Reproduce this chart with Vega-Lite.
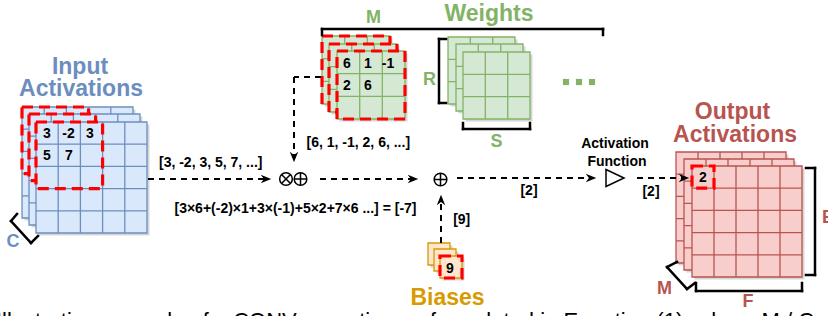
{
  "$schema": "https://vega.github.io/schema/vega-lite/v6.json",
  "width": 828,
  "height": 316,
  "autosize": {"type": "none"},
  "padding": 0,
  "background": "white",
  "config": {"view": {"stroke": null}, "legend": {"disable": true}},
  "datasets": {
    "grid": [
      {"g":"in","d":0,"x":22,"y":107,"x2":133,"y2":218},
      {"g":"in","d":1,"x":29,"y":114,"x2":140,"y2":225},
      {"g":"in","d":2,"x":36,"y":122,"x2":147,"y2":233},
      {"g":"w","d":0,"x":322,"y":36,"x2":390,"y2":104},
      {"g":"w","d":1,"x":329,"y":44,"x2":397,"y2":112},
      {"g":"w","d":2,"x":337,"y":51,"x2":405,"y2":119},
      {"g":"w","d":0,"x":448,"y":37,"x2":515,"y2":104},
      {"g":"w","d":1,"x":456,"y":44,"x2":523,"y2":111},
      {"g":"w","d":2,"x":463,"y":52,"x2":530,"y2":119},
      {"g":"out","d":0,"x":676,"y":152,"x2":786,"y2":263},
      {"g":"out","d":1,"x":684,"y":159,"x2":794,"y2":270},
      {"g":"out","d":2,"x":692,"y":166,"x2":802,"y2":277},
      {"g":"b","d":0,"x":428,"y":243,"x2":450,"y2":265},
      {"g":"b","d":1,"x":434,"y":249,"x2":456,"y2":271},
      {"g":"b","d":2,"x":440,"y":256,"x2":462,"y2":278}
    ],
    "gline": [
      {"g":"in","d":0,"x":44.2,"y":107,"x2":44.2,"y2":218},
      {"g":"in","d":0,"x":66.4,"y":107,"x2":66.4,"y2":218},
      {"g":"in","d":0,"x":88.6,"y":107,"x2":88.6,"y2":218},
      {"g":"in","d":0,"x":110.8,"y":107,"x2":110.8,"y2":218},
      {"g":"in","d":0,"x":22,"y":129.2,"x2":133,"y2":129.2},
      {"g":"in","d":0,"x":22,"y":151.4,"x2":133,"y2":151.4},
      {"g":"in","d":0,"x":22,"y":173.6,"x2":133,"y2":173.6},
      {"g":"in","d":0,"x":22,"y":195.8,"x2":133,"y2":195.8},
      {"g":"in","d":1,"x":51.2,"y":114,"x2":51.2,"y2":225},
      {"g":"in","d":1,"x":73.4,"y":114,"x2":73.4,"y2":225},
      {"g":"in","d":1,"x":95.6,"y":114,"x2":95.6,"y2":225},
      {"g":"in","d":1,"x":117.8,"y":114,"x2":117.8,"y2":225},
      {"g":"in","d":1,"x":29,"y":136.2,"x2":140,"y2":136.2},
      {"g":"in","d":1,"x":29,"y":158.4,"x2":140,"y2":158.4},
      {"g":"in","d":1,"x":29,"y":180.6,"x2":140,"y2":180.6},
      {"g":"in","d":1,"x":29,"y":202.8,"x2":140,"y2":202.8},
      {"g":"in","d":2,"x":58.2,"y":122,"x2":58.2,"y2":233},
      {"g":"in","d":2,"x":80.4,"y":122,"x2":80.4,"y2":233},
      {"g":"in","d":2,"x":102.6,"y":122,"x2":102.6,"y2":233},
      {"g":"in","d":2,"x":124.8,"y":122,"x2":124.8,"y2":233},
      {"g":"in","d":2,"x":36,"y":144.2,"x2":147,"y2":144.2},
      {"g":"in","d":2,"x":36,"y":166.4,"x2":147,"y2":166.4},
      {"g":"in","d":2,"x":36,"y":188.6,"x2":147,"y2":188.6},
      {"g":"in","d":2,"x":36,"y":210.8,"x2":147,"y2":210.8},
      {"g":"w","d":0,"x":344.7,"y":36,"x2":344.7,"y2":104},
      {"g":"w","d":0,"x":367.3,"y":36,"x2":367.3,"y2":104},
      {"g":"w","d":0,"x":322,"y":58.7,"x2":390,"y2":58.7},
      {"g":"w","d":0,"x":322,"y":81.3,"x2":390,"y2":81.3},
      {"g":"w","d":1,"x":351.7,"y":44,"x2":351.7,"y2":112},
      {"g":"w","d":1,"x":374.3,"y":44,"x2":374.3,"y2":112},
      {"g":"w","d":1,"x":329,"y":66.7,"x2":397,"y2":66.7},
      {"g":"w","d":1,"x":329,"y":89.3,"x2":397,"y2":89.3},
      {"g":"w","d":2,"x":359.7,"y":51,"x2":359.7,"y2":119},
      {"g":"w","d":2,"x":382.3,"y":51,"x2":382.3,"y2":119},
      {"g":"w","d":2,"x":337,"y":73.7,"x2":405,"y2":73.7},
      {"g":"w","d":2,"x":337,"y":96.3,"x2":405,"y2":96.3},
      {"g":"w","d":0,"x":470.3,"y":37,"x2":470.3,"y2":104},
      {"g":"w","d":0,"x":492.7,"y":37,"x2":492.7,"y2":104},
      {"g":"w","d":0,"x":448,"y":59.3,"x2":515,"y2":59.3},
      {"g":"w","d":0,"x":448,"y":81.7,"x2":515,"y2":81.7},
      {"g":"w","d":1,"x":478.3,"y":44,"x2":478.3,"y2":111},
      {"g":"w","d":1,"x":500.7,"y":44,"x2":500.7,"y2":111},
      {"g":"w","d":1,"x":456,"y":66.3,"x2":523,"y2":66.3},
      {"g":"w","d":1,"x":456,"y":88.7,"x2":523,"y2":88.7},
      {"g":"w","d":2,"x":485.3,"y":52,"x2":485.3,"y2":119},
      {"g":"w","d":2,"x":507.7,"y":52,"x2":507.7,"y2":119},
      {"g":"w","d":2,"x":463,"y":74.3,"x2":530,"y2":74.3},
      {"g":"w","d":2,"x":463,"y":96.7,"x2":530,"y2":96.7},
      {"g":"out","d":0,"x":698,"y":152,"x2":698,"y2":263},
      {"g":"out","d":0,"x":720,"y":152,"x2":720,"y2":263},
      {"g":"out","d":0,"x":742,"y":152,"x2":742,"y2":263},
      {"g":"out","d":0,"x":764,"y":152,"x2":764,"y2":263},
      {"g":"out","d":0,"x":676,"y":174.2,"x2":786,"y2":174.2},
      {"g":"out","d":0,"x":676,"y":196.4,"x2":786,"y2":196.4},
      {"g":"out","d":0,"x":676,"y":218.6,"x2":786,"y2":218.6},
      {"g":"out","d":0,"x":676,"y":240.8,"x2":786,"y2":240.8},
      {"g":"out","d":1,"x":706,"y":159,"x2":706,"y2":270},
      {"g":"out","d":1,"x":728,"y":159,"x2":728,"y2":270},
      {"g":"out","d":1,"x":750,"y":159,"x2":750,"y2":270},
      {"g":"out","d":1,"x":772,"y":159,"x2":772,"y2":270},
      {"g":"out","d":1,"x":684,"y":181.2,"x2":794,"y2":181.2},
      {"g":"out","d":1,"x":684,"y":203.4,"x2":794,"y2":203.4},
      {"g":"out","d":1,"x":684,"y":225.6,"x2":794,"y2":225.6},
      {"g":"out","d":1,"x":684,"y":247.8,"x2":794,"y2":247.8},
      {"g":"out","d":2,"x":714,"y":166,"x2":714,"y2":277},
      {"g":"out","d":2,"x":736,"y":166,"x2":736,"y2":277},
      {"g":"out","d":2,"x":758,"y":166,"x2":758,"y2":277},
      {"g":"out","d":2,"x":780,"y":166,"x2":780,"y2":277},
      {"g":"out","d":2,"x":692,"y":188.2,"x2":802,"y2":188.2},
      {"g":"out","d":2,"x":692,"y":210.4,"x2":802,"y2":210.4},
      {"g":"out","d":2,"x":692,"y":232.6,"x2":802,"y2":232.6},
      {"g":"out","d":2,"x":692,"y":254.8,"x2":802,"y2":254.8}
    ],
    "sel": [
      {"d":0,"x":22,"y":107,"x2":88.6,"y2":173.6},
      {"d":1,"x":29,"y":114,"x2":95.6,"y2":180.6},
      {"d":2,"x":36,"y":122,"x2":102.6,"y2":188.6},
      {"d":0,"x":322,"y":36,"x2":390,"y2":104},
      {"d":1,"x":329,"y":44,"x2":397,"y2":112},
      {"d":2,"x":337,"y":51,"x2":405,"y2":119},
      {"d":2,"x":692,"y":166,"x2":714,"y2":188.2},
      {"d":2,"x":440,"y":256,"x2":462,"y2":278}
    ],
    "dash": [
      {"x":321,"y":77,"x2":294,"y2":77},
      {"x":294,"y":77,"x2":294,"y2":155},
      {"x":148,"y":179,"x2":264,"y2":179},
      {"x":320,"y":179,"x2":411,"y2":179},
      {"x":441,"y":243,"x2":441,"y2":202},
      {"x":457,"y":178,"x2":589,"y2":178},
      {"x":637,"y":178,"x2":682,"y2":178}
    ],
    "brk": [
      {"x":322,"y":35,"x2":322,"y2":29},
      {"x":322,"y":29,"x2":603,"y2":29},
      {"x":603,"y":29,"x2":603,"y2":35},
      {"x":446,"y":39,"x2":439,"y2":39},
      {"x":439,"y":39,"x2":439,"y2":103},
      {"x":439,"y":103,"x2":446,"y2":103},
      {"x":463,"y":123,"x2":463,"y2":129},
      {"x":463,"y":129,"x2":530,"y2":129},
      {"x":530,"y":129,"x2":530,"y2":123},
      {"x":806,"y":168,"x2":815,"y2":168},
      {"x":815,"y":168,"x2":815,"y2":275},
      {"x":815,"y":275,"x2":806,"y2":275},
      {"x":696,"y":283,"x2":696,"y2":291},
      {"x":696,"y":291,"x2":802,"y2":291},
      {"x":802,"y":291,"x2":802,"y2":283},
      {"x":677,"y":262,"x2":667,"y2":267},
      {"x":667,"y":267,"x2":687,"y2":289},
      {"x":687,"y":289,"x2":695,"y2":283},
      {"x":17,"y":214,"x2":11,"y2":221},
      {"x":11,"y":221,"x2":31,"y2":243},
      {"x":31,"y":243,"x2":38,"y2":236}
    ],
    "sym": [
      {"s":"down","x":294,"y":157},
      {"s":"right","x":266,"y":179},
      {"s":"right","x":413,"y":179},
      {"s":"up","x":441,"y":200},
      {"s":"right","x":591,"y":178},
      {"s":"right","x":684,"y":178},
      {"s":"times","x":286,"y":179},
      {"s":"plus","x":300.5,"y":179},
      {"s":"plus","x":440.5,"y":179.5},
      {"s":"tri","x":615,"y":178}
    ],
    "dots": [
      {"x":566,"y":82},
      {"x":579,"y":82},
      {"x":592,"y":82}
    ],
    "txt": [
      {"t":"Input","x":80,"y":73.5,"k":"title","c":"in"},
      {"t":"Activations","x":81,"y":95.5,"k":"title","c":"in"},
      {"t":"Weights","x":489,"y":20.5,"k":"title","c":"w"},
      {"t":"Output","x":732.5,"y":119,"k":"title","c":"out"},
      {"t":"Activations","x":735,"y":141.5,"k":"title","c":"out"},
      {"t":"Biases","x":447.5,"y":305,"k":"title","c":"b"},
      {"t":"M","x":373.5,"y":23.3,"k":"dim","c":"w"},
      {"t":"R","x":429.5,"y":85,"k":"dim","c":"w"},
      {"t":"S","x":496.5,"y":146.5,"k":"dim","c":"w"},
      {"t":"C","x":13,"y":246.5,"k":"dim","c":"in"},
      {"t":"M","x":664.5,"y":294,"k":"dim","c":"out"},
      {"t":"F","x":748,"y":307,"k":"dim","c":"out"},
      {"t":"E","x":828,"y":223,"k":"dim","c":"out"},
      {"t":"[3, -2, 3, 5, 7, ...]","x":210.7,"y":166.7,"k":"lab","c":"k"},
      {"t":"[6, 1, -1, 2, 6, ...]","x":358.3,"y":146.7,"k":"lab","c":"k"},
      {"t":"[3×6+(-2)×1+3×(-1)+5×2+7×6 ...] = [-7]","x":295.5,"y":213,"k":"lab","c":"k"},
      {"t":"[9]","x":461.7,"y":224,"k":"lab","c":"k"},
      {"t":"[2]","x":529,"y":195,"k":"lab","c":"k"},
      {"t":"[2]","x":651,"y":196,"k":"lab","c":"k"},
      {"t":"Activation","x":615,"y":148,"k":"lab","c":"k"},
      {"t":"Function","x":617,"y":166,"k":"lab","c":"k"},
      {"t":"3","x":47,"y":138,"k":"lab","c":"k"},
      {"t":"-2","x":68.5,"y":138,"k":"lab","c":"k"},
      {"t":"3","x":90,"y":138,"k":"lab","c":"k"},
      {"t":"5","x":47,"y":160,"k":"lab","c":"k"},
      {"t":"7","x":69,"y":160,"k":"lab","c":"k"},
      {"t":"6","x":347,"y":67.5,"k":"lab","c":"k"},
      {"t":"1","x":368,"y":67.5,"k":"lab","c":"k"},
      {"t":"-1","x":388,"y":67.5,"k":"lab","c":"k"},
      {"t":"2","x":347,"y":90,"k":"lab","c":"k"},
      {"t":"6","x":368,"y":90,"k":"lab","c":"k"},
      {"t":"9","x":450,"y":273,"k":"lab","c":"k"},
      {"t":"2","x":703,"y":182,"k":"lab","c":"k"},
      {"t":"Illustrative example of a CONV operation as formulated in Equation (1), where M / C","x":-4,"y":328,"k":"cap","c":"k"}
    ]
  },
  "encoding": {
    "x": {"field": "x", "type": "quantitative", "scale": {"domain": [0, 828], "nice": false, "zero": false}, "axis": null},
    "y": {"field": "y", "type": "quantitative", "scale": {"domain": [0, 316], "reverse": true, "nice": false, "zero": false}, "axis": null}
  },
  "layer": [
    {
      "data": {"name": "grid"},
      "mark": {"type": "rect", "fill": "#000000", "fillOpacity": 0.16, "strokeWidth": 0, "xOffset": 2.5, "x2Offset": 2.5, "yOffset": 2.5, "y2Offset": 2.5},
      "encoding": {"x2": {"field": "x2"}, "y2": {"field": "y2"}}
    },
    {
      "data": {"name": "grid"},
      "transform": [{"filter": "datum.d == 0"}],
      "mark": {"type": "rect", "strokeWidth": 1.3},
      "encoding": {
        "x2": {"field": "x2"}, "y2": {"field": "y2"},
        "fill": {"field": "g", "type": "nominal", "scale": {"domain": ["in","w","out","b"], "range": ["#dae8fc","#d5e8d4","#f8cecc","#ffe6cc"]}, "legend": null},
        "stroke": {"field": "g", "type": "nominal", "scale": {"domain": ["in","w","out","b"], "range": ["#6c8ebf","#82b366","#b85450","#d79b00"]}, "legend": null}
      }
    },
    {
      "data": {"name": "gline"},
      "transform": [{"filter": "datum.d == 0"}],
      "mark": {"type": "rule", "strokeWidth": 1.3},
      "encoding": {
        "x2": {"field": "x2"}, "y2": {"field": "y2"},
        "stroke": {"field": "g", "type": "nominal", "scale": {"domain": ["in","w","out","b"], "range": ["#6c8ebf","#82b366","#b85450","#d79b00"]}, "legend": null}
      }
    },
    {
      "data": {"name": "sel"},
      "transform": [{"filter": "datum.d == 0"}],
      "mark": {"type": "rect", "fill": "transparent", "stroke": "#ff0000", "strokeWidth": 3.2, "strokeDash": [11, 6]},
      "encoding": {"x2": {"field": "x2"}, "y2": {"field": "y2"}}
    },
    {
      "data": {"name": "grid"},
      "transform": [{"filter": "datum.d == 1"}],
      "mark": {"type": "rect", "strokeWidth": 1.3},
      "encoding": {
        "x2": {"field": "x2"}, "y2": {"field": "y2"},
        "fill": {"field": "g", "type": "nominal", "scale": {"domain": ["in","w","out","b"], "range": ["#dae8fc","#d5e8d4","#f8cecc","#ffe6cc"]}, "legend": null},
        "stroke": {"field": "g", "type": "nominal", "scale": {"domain": ["in","w","out","b"], "range": ["#6c8ebf","#82b366","#b85450","#d79b00"]}, "legend": null}
      }
    },
    {
      "data": {"name": "gline"},
      "transform": [{"filter": "datum.d == 1"}],
      "mark": {"type": "rule", "strokeWidth": 1.3},
      "encoding": {
        "x2": {"field": "x2"}, "y2": {"field": "y2"},
        "stroke": {"field": "g", "type": "nominal", "scale": {"domain": ["in","w","out","b"], "range": ["#6c8ebf","#82b366","#b85450","#d79b00"]}, "legend": null}
      }
    },
    {
      "data": {"name": "sel"},
      "transform": [{"filter": "datum.d == 1"}],
      "mark": {"type": "rect", "fill": "transparent", "stroke": "#ff0000", "strokeWidth": 3.2, "strokeDash": [11, 6]},
      "encoding": {"x2": {"field": "x2"}, "y2": {"field": "y2"}}
    },
    {
      "data": {"name": "grid"},
      "transform": [{"filter": "datum.d == 2"}],
      "mark": {"type": "rect", "strokeWidth": 1.3},
      "encoding": {
        "x2": {"field": "x2"}, "y2": {"field": "y2"},
        "fill": {"field": "g", "type": "nominal", "scale": {"domain": ["in","w","out","b"], "range": ["#dae8fc","#d5e8d4","#f8cecc","#ffe6cc"]}, "legend": null},
        "stroke": {"field": "g", "type": "nominal", "scale": {"domain": ["in","w","out","b"], "range": ["#6c8ebf","#82b366","#b85450","#d79b00"]}, "legend": null}
      }
    },
    {
      "data": {"name": "gline"},
      "transform": [{"filter": "datum.d == 2"}],
      "mark": {"type": "rule", "strokeWidth": 1.3},
      "encoding": {
        "x2": {"field": "x2"}, "y2": {"field": "y2"},
        "stroke": {"field": "g", "type": "nominal", "scale": {"domain": ["in","w","out","b"], "range": ["#6c8ebf","#82b366","#b85450","#d79b00"]}, "legend": null}
      }
    },
    {
      "data": {"name": "sel"},
      "transform": [{"filter": "datum.d == 2"}],
      "mark": {"type": "rect", "fill": "transparent", "stroke": "#ff0000", "strokeWidth": 3.2, "strokeDash": [11, 6]},
      "encoding": {"x2": {"field": "x2"}, "y2": {"field": "y2"}}
    },
    {
      "data": {"name": "dash"},
      "mark": {"type": "rule", "stroke": "#000000", "strokeWidth": 2, "strokeDash": [6, 5]},
      "encoding": {"x2": {"field": "x2"}, "y2": {"field": "y2"}}
    },
    {
      "data": {"name": "brk"},
      "mark": {"type": "rule", "stroke": "#000000", "strokeWidth": 2.5, "strokeCap": "square"},
      "encoding": {"x2": {"field": "x2"}, "y2": {"field": "y2"}}
    },
    {
      "data": {"name": "sym"},
      "transform": [{"filter": "datum.s == 'right' || datum.s == 'down' || datum.s == 'up'"}],
      "mark": {"type": "point", "filled": true, "fill": "#000000", "opacity": 1, "size": 110, "strokeWidth": 0},
      "encoding": {
        "shape": {"field": "s", "type": "nominal", "scale": {"domain": ["right","down","up","plus","times","tri"], "range": ["M1,0L-1,-0.8L-0.4,0L-1,0.8Z","M0,1L-0.8,-1L0,-0.4L0.8,-1Z","M0,-1L-0.8,1L0,0.4L0.8,1Z","M-1,0L1,0M0,-1L0,1","M-0.707,-0.707L0.707,0.707M-0.707,0.707L0.707,-0.707","M-1,-0.95L1,0L-1,0.95Z"]}, "legend": null}
      }
    },
    {
      "data": {"name": "sym"},
      "transform": [{"filter": "datum.s == 'plus' || datum.s == 'times'"}],
      "mark": {"type": "point", "shape": "circle", "filled": false, "stroke": "#000000", "opacity": 1, "size": 160, "strokeWidth": 1.5}
    },
    {
      "data": {"name": "sym"},
      "transform": [{"filter": "datum.s == 'plus' || datum.s == 'times'"}],
      "mark": {"type": "point", "filled": false, "stroke": "#000000", "opacity": 1, "size": 160, "strokeWidth": 1.5},
      "encoding": {
        "shape": {"field": "s", "type": "nominal", "scale": {"domain": ["right","down","up","plus","times","tri"], "range": ["M1,0L-1,-0.8L-0.4,0L-1,0.8Z","M0,1L-0.8,-1L0,-0.4L0.8,-1Z","M0,-1L-0.8,1L0,0.4L0.8,1Z","M-1,0L1,0M0,-1L0,1","M-0.707,-0.707L0.707,0.707M-0.707,0.707L0.707,-0.707","M-1,-0.95L1,0L-1,0.95Z"]}, "legend": null}
      }
    },
    {
      "data": {"name": "sym"},
      "transform": [{"filter": "datum.s == 'tri'"}],
      "mark": {"type": "point", "filled": false, "stroke": "#000000", "opacity": 1, "size": 324, "strokeWidth": 1.5},
      "encoding": {
        "shape": {"field": "s", "type": "nominal", "scale": {"domain": ["right","down","up","plus","times","tri"], "range": ["M1,0L-1,-0.8L-0.4,0L-1,0.8Z","M0,1L-0.8,-1L0,-0.4L0.8,-1Z","M0,-1L-0.8,1L0,0.4L0.8,1Z","M-1,0L1,0M0,-1L0,1","M-0.707,-0.707L0.707,0.707M-0.707,0.707L0.707,-0.707","M-1,-0.95L1,0L-1,0.95Z"]}, "legend": null}
      }
    },
    {
      "data": {"name": "dots"},
      "mark": {"type": "point", "shape": "square", "filled": true, "fill": "#82b366", "opacity": 1, "size": 38, "strokeWidth": 0}
    },
    {
      "data": {"name": "txt"},
      "transform": [{"filter": "datum.k == 'title'"}],
      "mark": {"type": "text", "font": "Liberation Sans", "fontWeight": "bold", "fontSize": 23, "align": "center", "baseline": "alphabetic"},
      "encoding": {
        "text": {"field": "t"},
        "color": {"field": "c", "type": "nominal", "scale": {"domain": ["in","w","out","b","k"], "range": ["#6c8ebf","#82b366","#b85450","#d79b00","#000000"]}, "legend": null}
      }
    },
    {
      "data": {"name": "txt"},
      "transform": [{"filter": "datum.k == 'dim'"}],
      "mark": {"type": "text", "font": "Liberation Sans", "fontWeight": "bold", "fontSize": 18, "align": "center", "baseline": "alphabetic"},
      "encoding": {
        "text": {"field": "t"},
        "color": {"field": "c", "type": "nominal", "scale": {"domain": ["in","w","out","b","k"], "range": ["#6c8ebf","#82b366","#b85450","#d79b00","#000000"]}, "legend": null}
      }
    },
    {
      "data": {"name": "txt"},
      "transform": [{"filter": "datum.k == 'lab'"}],
      "mark": {"type": "text", "font": "Liberation Sans", "fontWeight": "bold", "fontSize": 14, "align": "center", "baseline": "alphabetic"},
      "encoding": {
        "text": {"field": "t"},
        "color": {"field": "c", "type": "nominal", "scale": {"domain": ["in","w","out","b","k"], "range": ["#6c8ebf","#82b366","#b85450","#d79b00","#000000"]}, "legend": null}
      }
    },
    {
      "data": {"name": "txt"},
      "transform": [{"filter": "datum.k == 'cap'"}],
      "mark": {"type": "text", "font": "Liberation Sans", "fontSize": 22, "align": "left", "baseline": "alphabetic"},
      "encoding": {
        "text": {"field": "t"},
        "color": {"field": "c", "type": "nominal", "scale": {"domain": ["in","w","out","b","k"], "range": ["#6c8ebf","#82b366","#b85450","#d79b00","#000000"]}, "legend": null}
      }
    }
  ]
}
